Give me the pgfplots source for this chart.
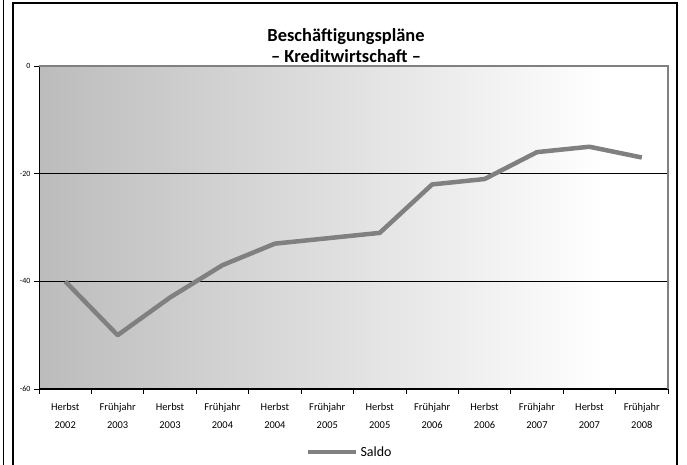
\documentclass[border=0pt]{standalone}
\usepackage{pgfplots}
\pgfplotsset{compat=1.18}
\usepackage{fontspec}
\setmainfont{Carlito}
\definecolor{bgl}{RGB}{188,188,188}
\definecolor{linegray}{RGB}{128,128,128}
\pgfdeclarehorizontalshading{excelgrad}{100bp}{color(0bp)=(bgl); color(25bp)=(bgl); color(70bp)=(white); color(100bp)=(white)}
\begin{document}
\begin{tikzpicture}[x=1bp,y=1bp]
\useasboundingbox (0,0) rectangle (687,465);
\fill[white] (0,0) rectangle (687,465);
\begin{axis}[
  at={(39bp,76bp)}, anchor=south west,
  scale only axis, width=629bp, height=323bp,
  axis background/.style={shade, shading=excelgrad},
  xmin=-0.5, xmax=11.5, ymin=-60, ymax=0,
  axis lines=left, axis line style={-, black, line width=1bp},
  ytick={-60,-40,-20,0}, yticklabels={-60,-40,-20,0},
  ymajorgrids, grid style={black, line width=0.6bp},
  xtick={0,...,11},
  xticklabels={{Herbst\\2002},{Frühjahr\\2003},{Herbst\\2003},{Frühjahr\\2004},{Herbst\\2004},{Frühjahr\\2005},{Herbst\\2005},{Frühjahr\\2006},{Herbst\\2006},{Frühjahr\\2007},{Herbst\\2007},{Frühjahr\\2008}},
  minor xtick={-0.5,0.5,...,11.5},
  major x tick style={draw=none},
  minor x tick style={black, line width=0.8bp},
  y tick style={black, line width=0.8bp},
  tick align=outside, major tick length=5bp, minor tick length=5bp,
  xticklabel style={align=center, font=\fontsize{10.5}{18}\selectfont, yshift=-6bp},
  yticklabel style={font=\fontsize{8}{9}\selectfont},
  legend style={at={(axis description cs:0.494,-0.195)}, anchor=center, draw=none, fill=none,
    font=\fontsize{14}{16}\selectfont, inner sep=0pt, column sep=0pt},
  legend image code/.code={\draw[#1] (0bp,0bp) -- (48bp,0bp);},
  clip=false,
]
\addplot[linegray, line width=4.5bp, line join=round] coordinates {
(0,-40) (1,-50) (2,-43) (3,-37) (4,-33) (5,-32) (6,-31) (7,-22) (8,-21) (9,-16) (10,-15) (11,-17)
};
\addlegendentry{Saldo}
\draw[linegray, line width=2bp] (rel axis cs:0,1) -- (rel axis cs:1,1) -- (rel axis cs:1,0);
\end{axis}
\node[font=\fontsize{18.5}{20}\selectfont\bfseries] at (346,428) {Beschäftigungspläne};
\node[font=\fontsize{18.5}{20}\selectfont\bfseries] at (346,409) {– Kreditwirtschaft –};
\draw[black, line width=1.2bp] (13,0) -- (13,462) -- (677,462) -- (677,0);
\draw[black, line width=1.2bp] (3.5,0) -- (3.5,465);
\end{tikzpicture}
\end{document}
